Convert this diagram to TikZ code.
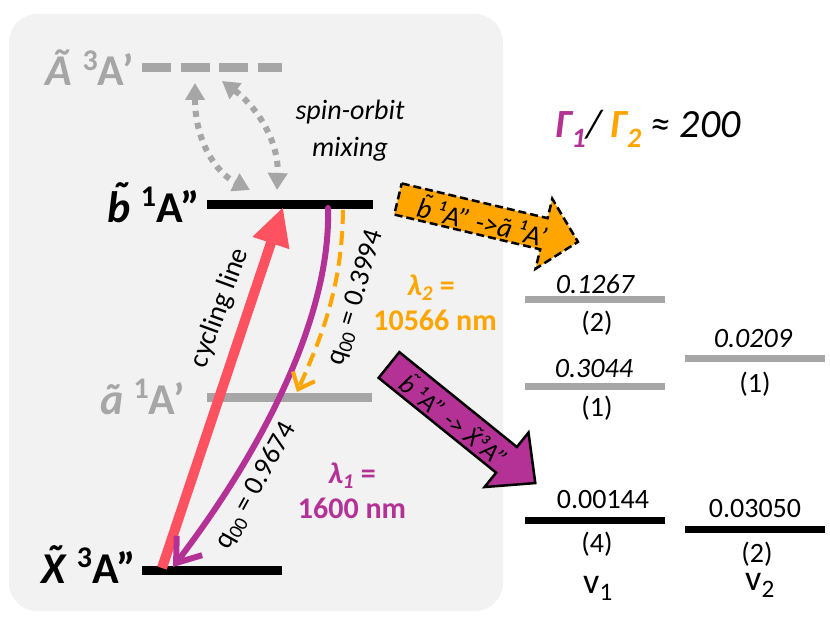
\documentclass[tikz,border=0pt]{standalone}
\usepackage{fontspec}
\setmainfont{Carlito}
\usetikzlibrary{arrows.meta}
\definecolor{bgc}{HTML}{F2F2F2}
\definecolor{lgray}{HTML}{A6A6A6}
\definecolor{orng}{HTML}{FFA500}
\definecolor{purp}{RGB}{180,50,150}
\definecolor{redc}{RGB}{255,82,97}
\newcommand\tld[1]{{\accent"02DC #1}}
\newcommand\sups[1]{\raisebox{0.36em}{\fontsize{30}{30}\selectfont #1}}
\tikzset{
  lvl/.style={font=\fontsize{44}{44}\selectfont\bfseries, inner sep=0pt},
  levelline/.style={line width=9pt},
  vibline/.style={line width=7pt},
  num/.style={font=\fontsize{28}{28}\selectfont, inner sep=0pt, anchor=base},
  inum/.style={font=\fontsize{28}{28}\selectfont\itshape, inner sep=0pt, anchor=base},
  vlab/.style={font=\fontsize{36}{36}\selectfont, inner sep=0pt, anchor=base},
  rot/.style={font=\fontsize{28}{28}\selectfont, inner sep=0pt},
  lam/.style={font=\fontsize{30}{30}\selectfont\bfseries, inner sep=0pt, anchor=base},
  mixarrow/.style={lgray, line width=6pt, dash pattern=on 6pt off 6pt,
    {Triangle[length=17pt,width=19pt]}-{Triangle[length=17pt,width=19pt]}},
}
\begin{document}
\begin{tikzpicture}[x=1pt,y=-1pt]
\useasboundingbox (0,0) rectangle (830,623);
\fill[bgc, rounded corners=28pt] (9,14) rectangle (503,611);

% level coordinates
\coordinate (AL) at (142,68);  \coordinate (AR) at (282,68);
\coordinate (bL) at (207,204); \coordinate (bR) at (373,204);
\coordinate (aL) at (207,397); \coordinate (aR) at (372,397);
\coordinate (XL) at (142,570); \coordinate (XR) at (282,570);

\draw[levelline, lgray, dash pattern=on 29pt off 9.5pt] (AL) -- (AR);
\draw[levelline, black] (bL) -- (bR);
\draw[levelline, lgray] (aL) -- (aR);
\draw[levelline, black] (XL) -- (XR);

\node[lvl, text=lgray, anchor=base east] (Alab) at (134,86) {\textit{Ã} \sups{3}A’};
\node[lvl, text=black, anchor=base east] (blab) at (200,222) {\textit{\tld{b}} \sups{1}A”};
\node[lvl, text=lgray, anchor=base east] (alab) at (185,414) {\textit{ã} \sups{1}A’};
\node[lvl, text=black, anchor=base east] (Xlab) at (136,583) {\textit{\tld{X}} \sups{3}A”};

% spin-orbit mixing
\coordinate (m1a) at (195,83);  \coordinate (m1b) at (250,190);
\coordinate (m2a) at (222,81);  \coordinate (m2b) at (277,190);
\draw[mixarrow] (m1a) .. controls (195,140) and (215,172) .. (m1b);
\draw[mixarrow] (m2a) .. controls (258,108) and (279,142) .. (m2b);
\node[font=\fontsize{28}{28}\selectfont\itshape, inner sep=0pt, anchor=base] (so1) at (350,120) {spin-orbit};
\node[font=\fontsize{28}{28}\selectfont\itshape, inner sep=0pt, anchor=base] (so2) at (350,157) {mixing};

% transitions
\coordinate (rb) at (162,568); \coordinate (rt) at (283,207);
\draw[redc, line width=10pt, -{Triangle[length=38pt,width=36pt]}] (rb) -- (rt);
\node[rot, rotate=70] (cyc) at (220,308) {cycling line};

\coordinate (pt) at (328,208); \coordinate (pb) at (173,567);
\draw[purp, line width=6pt, line cap=round, -{Straight Barb[length=22pt,width=32pt]}] (pt) .. controls (331,310) and (270,440) .. (pb);
\node[rot, rotate=61] (q2) at (256,486) {q\textsubscript{00} = 0.9674};

\coordinate (ot) at (343,210); \coordinate (ob) at (297,392);
\draw[orng, line width=4pt, dash pattern=on 14pt off 7pt, -{Straight Barb[length=14pt,width=24pt]}] (ot) .. controls (342,290) and (320,340) .. (ob);
\node[rot, rotate=73] (q1) at (356,298) {q\textsubscript{00} = 0.3994};

% wavelengths
\node[lam, text=orng] (l2a) at (431,295) {\textit{λ\textsubscript{2}} =};
\node[lam, text=orng] (l2b) at (435,330) {10566 nm};
\node[lam, text=purp] (l1a) at (352,483) {\textit{λ\textsubscript{1}} =};
\node[lam, text=purp] (l1b) at (352,518) {1600 nm};

% block arrows
\begin{scope}[shift={(398,199)}, rotate=-13.4]
  \filldraw[fill=orng, draw=black, line width=2.5pt, dash pattern=on 8pt off 4pt, line join=miter]
    (0,-16) -- (150,-16) -- (150,-36) -- (185,0) -- (150,36) -- (150,16) -- (0,16) -- cycle;
  \node[font=\fontsize{28}{28}\selectfont\itshape, inner sep=0pt, rotate=-13.4] (oat) at (87,1) {\tld{b} ¹A” ->ã ¹A’};
\end{scope}
\begin{scope}[shift={(389,365)}, rotate=-38.9]
  \filldraw[fill=purp, draw=black, line width=2.5pt, line join=miter]
    (0,-16.5) -- (151,-16.5) -- (151,-35) -- (188,0) -- (151,35) -- (151,16.5) -- (0,16.5) -- cycle;
  \node[font=\fontsize{26}{26}\selectfont\itshape, inner sep=0pt, rotate=-38.9] (pat) at (86,1) {\tld{b} ¹A” -> \tld{X}³A”};
\end{scope}

% ratio
\node[font=\fontsize{40}{40}\selectfont\itshape, inner sep=0pt, anchor=base west] (ratio) at (555,138)
  {{\color{purp}\textbf{Γ\textsubscript{1}}}/ {\color{orng}\textbf{Γ\textsubscript{2}}} ≈ 200};

% vibrational levels
\coordinate (v1aL) at (525,299); \coordinate (v1aR) at (665,299);
\coordinate (v1bL) at (525,386); \coordinate (v1bR) at (665,386);
\coordinate (v1cL) at (525,520); \coordinate (v1cR) at (665,520);
\coordinate (v2aL) at (685,358); \coordinate (v2aR) at (825,358);
\coordinate (v2bL) at (685,529); \coordinate (v2bR) at (825,529);
\draw[vibline, lgray] (v1aL) -- (v1aR);
\draw[vibline, lgray] (v1bL) -- (v1bR);
\draw[vibline, black] (v1cL) -- (v1cR);
\draw[vibline, lgray] (v2aL) -- (v2aR);
\draw[vibline, black] (v2bL) -- (v2bR);

\node[inum] (n1) at (595,293) {0.1267};
\node[num] (n1b) at (597,331) {(2)};
\node[inum] (n2) at (594,377) {0.3044};
\node[num] (n2b) at (597,416) {(1)};
\node[num] (n3) at (603,508) {0.00144};
\node[num] (n3b) at (597,552) {(4)};
\node[inum] (n4) at (753,347) {0.0209};
\node[num] (n4b) at (755,392) {(1)};
\node[num] (n5) at (755,517) {0.03050};
\node[num] (n5b) at (757,562) {(2)};
\node[vlab] (vv1) at (598,593) {v\textsubscript{1}};
\node[vlab] (vv2) at (760,590) {v\textsubscript{2}};
\end{tikzpicture}
\end{document}
